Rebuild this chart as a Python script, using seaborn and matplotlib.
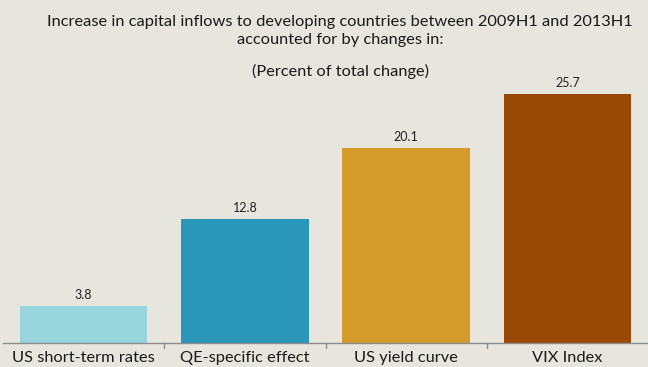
import matplotlib
matplotlib.use("Agg")
import matplotlib.pyplot as plt
import seaborn as sns
import pandas as pd

categories = ["US short-term rates", "QE-specific effect", "US yield curve", "VIX Index"]
values = [3.8, 12.8, 20.1, 25.7]
colors = ["#97D4DC", "#2A97B9", "#D49B2B", "#994806"]

title_lines = "Increase in capital inflows to developing countries between 2009H1 and 2013H1\naccounted for by changes in:"
subtitle = "(Percent of total change)"

bg = "#E6E6DF"
sns.set_theme(style="white")
plt.rcParams["font.family"] = ["Lato", "DejaVu Sans"]

df = pd.DataFrame({"category": categories, "value": values})

fig = plt.figure(figsize=(6.48, 3.67), dpi=100, facecolor=bg)
ax = fig.add_axes([3 / 648, (367 - 343) / 367, 645 / 648, (343 - 60) / 367])
ax.set_facecolor(bg)

sns.barplot(data=df, x="category", y="value", hue="category", palette=colors,
            legend=False, width=0.79, saturation=1, linewidth=0, ax=ax)

ax.set_ylim(0, (343 - 60) / 9.69)
ax.set_xlim(-0.5, 3.5)
ax.set_xlabel("")
ax.set_ylabel("")
ax.set_yticks([])
for s in ["top", "right", "left"]:
    ax.spines[s].set_visible(False)
ax.spines["bottom"].set_color("#8C8C8C")
ax.spines["bottom"].set_linewidth(1.0)

# category labels without ticks; separators between categories
ax.set_xticks(range(len(categories)))
ax.set_xticklabels(categories, fontsize=11.8, color="#1A1A1A")
ax.tick_params(axis="x", length=0, pad=6)
for b in [0.5, 1.5, 2.5]:
    ax.plot([b, b], [0, -0.5], color="#8C8C8C", lw=1.0, clip_on=False)

for i, v in enumerate(values):
    ax.text(i, v + 0.5, f"{v:.1f}", ha="center", va="bottom", fontsize=9, color="#222222")

fig.text(340 / 648, 1 - 15 / 367, title_lines, ha="center", va="top", fontsize=11.8,
         color="#1A1A1A", linespacing=1.35)
fig.text(340 / 648, 1 - 64 / 367, subtitle, ha="center", va="top", fontsize=11.8, color="#1A1A1A")

fig.savefig("out.png", dpi=100, facecolor=bg)
